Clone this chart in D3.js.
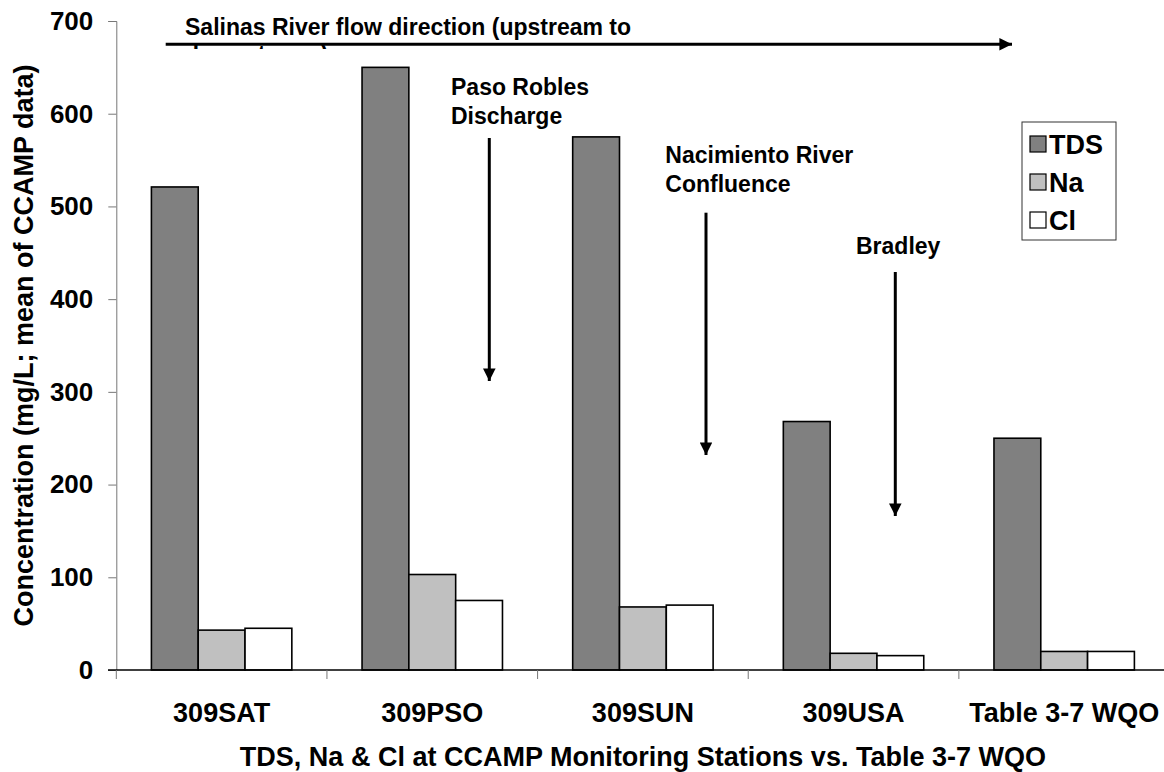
<!DOCTYPE html>
<html>
<head>
<meta charset="utf-8">
<script src="https://cdn.jsdelivr.net/npm/d3@7"></script>
<style>
  body { margin: 0; background: #fff; }
  svg text { font-family: "Liberation Sans", Arial, sans-serif; font-weight: bold; fill: #000; }
</style>
</head>
<body>
<svg id="chart" width="1164" height="772"></svg>
<script>
// stations, left to right = upstream to downstream
const stations = ['309SAT', '309PSO', '309SUN', '309USA', 'Table 3-7 WQO']
const series = ['TDS', 'Na', 'Cl']
const tds = [521, 650, 575, 268, 250]
const na = [43, 103, 68, 18, 20]
const cl = [45, 75, 70, 15.5, 20]
const yTicks = [0, 100, 200, 300, 400, 500, 600, 700]

const values = { TDS: tds, Na: na, Cl: cl }
const fills = { TDS: '#808080', Na: '#c0c0c0', Cl: '#ffffff' }

const svg = d3.select('#chart')

const x0 = d3.scaleBand().domain(stations).range([116.3, 1169.5])
const x1 = d3.scaleBand().domain(series).range([0, x0.bandwidth()]).paddingOuter(0.75)
const y = d3.scaleLinear().domain([0, 700]).range([670, 21])

//======== bars ========//
const groups = svg.append('g')
  .selectAll('g')
  .data(stations)
  .join('g')
  .attr('transform', d => `translate(${x0(d)},0)`)

groups.selectAll('rect')
  .data((d, i) => series.map(s => ({ s, v: values[s][i] })))
  .join('rect')
  .attr('x', d => x1(d.s))
  .attr('y', d => y(d.v))
  .attr('width', x1.bandwidth())
  .attr('height', d => y(0) - y(d.v))
  .attr('fill', d => fills[d.s])
  .attr('stroke', '#000')
  .attr('stroke-width', 1.6)

//======== y axis ========//
const yAxis = svg.append('g')
  .attr('transform', 'translate(116.3,0)')
  .call(d3.axisLeft(y).tickValues(yTicks).tickSize(8).tickPadding(15))
yAxis.select('.domain').attr('stroke', '#777')
yAxis.selectAll('.tick line').attr('stroke', '#777')
yAxis.selectAll('.tick text')
  .attr('font-size', 26)
  .attr('font-family', '"Liberation Sans", Arial, sans-serif')
  .attr('font-weight', 'bold')
  .attr('fill', '#000')

svg.append('text')
  .attr('transform', `translate(33,${(y(0) + y(700)) / 2}) rotate(-90)`)
  .attr('text-anchor', 'middle')
  .attr('font-size', 27)
  .text('Concentration (mg/L; mean of CCAMP data)')

//======== x axis ========//
const xEnd = x0.range()[1]
svg.append('line')
  .attr('x1', 108).attr('x2', xEnd)
  .attr('y1', y(0)).attr('y2', y(0))
  .attr('stroke', '#000').attr('stroke-width', 1.5)

svg.append('g')
  .selectAll('line')
  .data(stations)
  .join('line')
  .attr('x1', d => x0(d)).attr('x2', d => x0(d))
  .attr('y1', y(0)).attr('y2', y(0) + 9)
  .attr('stroke', '#777')

svg.append('g')
  .selectAll('text')
  .data(stations)
  .join('text')
  .attr('x', d => x0(d) + x0.bandwidth() / 2)
  .attr('y', 721.5)
  .attr('text-anchor', 'middle')
  .attr('font-size', 27)
  .text(d => d)

svg.append('text')
  .attr('x', (x0.range()[0] + xEnd) / 2)
  .attr('y', 766)
  .attr('text-anchor', 'middle')
  .attr('font-size', 27)
  .text('TDS, Na & Cl at CCAMP Monitoring Stations vs. Table 3-7 WQO')

//======== legend ========//
const legend = svg.append('g').attr('transform', 'translate(1022,122)')
legend.append('rect')
  .attr('width', 94).attr('height', 118)
  .attr('fill', '#fff').attr('stroke', '#333').attr('stroke-width', 1)
const items = legend.selectAll('g.item')
  .data(series)
  .join('g')
  .classed('item', true)
  .attr('transform', (d, i) => `translate(0,${22 + i * 38})`)
items.append('rect')
  .attr('x', 8).attr('y', -8)
  .attr('width', 16).attr('height', 16)
  .attr('fill', d => fills[d]).attr('stroke', '#000').attr('stroke-width', 1.2)
items.append('text')
  .attr('x', 27).attr('y', 9.5)
  .attr('font-size', 27)
  .text(d => d)

//======== annotations ========//
const defs = svg.append('defs')
defs.append('marker')
  .attr('id', 'head')
  .attr('viewBox', '0 0 10 10')
  .attr('refX', 10).attr('refY', 5)
  .attr('markerWidth', 6).attr('markerHeight', 4.2)
  .attr('markerUnits', 'strokeWidth')
  .attr('orient', 'auto')
  .append('path')
  .attr('d', 'M0,0 L10,5 L0,10 Z')
  .attr('fill', '#000')
defs.append('clipPath').attr('id', 'cut')
  .append('rect').attr('x', 150).attr('y', 0).attr('width', 900).attr('height', 49)

// flow direction
const flow = svg.append('g').attr('clip-path', 'url(#cut)')
flow.append('text')
  .attr('x', 185).attr('y', 35)
  .attr('font-size', 23)
  .text('Salinas River flow direction (upstream to')
flow.append('text')
  .attr('x', 185).attr('y', 62)
  .attr('font-size', 23)
  .text('downstream)')
svg.append('line')
  .attr('x1', 165.7).attr('x2', 1012)
  .attr('y1', 44.3).attr('y2', 44.3)
  .attr('stroke', '#000').attr('stroke-width', 3)
  .attr('marker-end', 'url(#head)')

const notes = [
  { lines: ['Paso Robles', 'Discharge'], tx: 451, ty: 95, ax: 489.3, a0: 138, a1: 381 },
  { lines: ['Nacimiento River', 'Confluence'], tx: 665.3, ty: 163.3, ax: 706, a0: 212.7, a1: 455 },
  { lines: ['Bradley'], tx: 856, ty: 254, ax: 895.3, a0: 272, a1: 516 }
]

notes.forEach(n => {
  const g = svg.append('g')
  g.selectAll('text')
    .data(n.lines)
    .join('text')
    .attr('x', n.tx)
    .attr('y', (d, i) => n.ty + i * 28.5)
    .attr('font-size', 23)
    .text(d => d)
  g.append('line')
    .attr('x1', n.ax).attr('x2', n.ax)
    .attr('y1', n.a0).attr('y2', n.a1)
    .attr('stroke', '#000').attr('stroke-width', 3)
    .attr('marker-end', 'url(#head)')
})
</script>
</body>
</html>
